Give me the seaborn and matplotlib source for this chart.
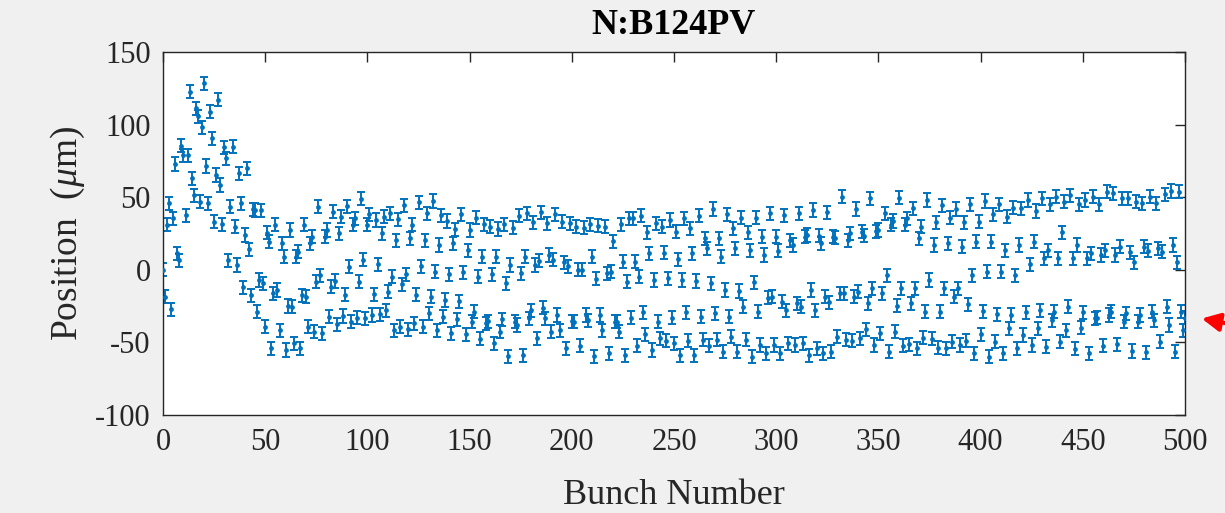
import numpy as np
import pandas as pd
import matplotlib
matplotlib.use("Agg")
import matplotlib.pyplot as plt
import seaborn as sns

# Beam position per bunch (micrometres), bunches 0..500
pos_0_83 = [0, -18.5, 30.9, 45.8, -27.2, 35.5, 72.9, 11.4, 6.7, 85.3,
            79, 37.7, 79, 122.7, 63, 51.5, 111.2, 105.9, 46.9, 98.1,
            128.4, 71.5, 45.8, 108.9, 90.5, 33.2, 65.3, 117, 58.4, 31.5,
            84.3, 76.8, 6.7, 43.5, 84.8, 29.7, 3.3, 66.5, 45.8, -12,
            24, 69.9, 14.1, -17.4, 41.7, 41.2, -28.8, -7, 41, -9.3,
            -39.2, 25.6, 19.4, -54.1, -16.2, 30.9, -13.9, -41.5, 18.2, 9,
            -55.2, -24.9, 27.4, -25.4, -50.6, 9, 12.5, -54.1, -17.4, 30.9,
            -18.5, -39.2, 18.2, 22.8, -42.6, -8.2, 43.5, -3.6, -43.8, 22.8,
            27.4, -32.3, -11.5, 40]
pos_84_151 = [-7.7, -37.5, 25.1, 36.6, -31.8, -17.3, 43.9, 2.2, -35.7, 30.9,
              35.5, -33, -8.2, 48.8, 6.8, -33.4, 30.9, 38.2, -31.1, -16.9,
              34.3, 3.8, -30.7, 25.1, 36.6, -27.7, -15.1, 38.9, -4.7, -41.5,
              20.5, 34.8, -39.2, -10, 44.6, -3.1, -40.8, 21.7, 30.9, -36.9,
              -17.3, 46.5, 2.6, -39.2, 20.5, 38.9, -30, -18.5, 47.4, -1.3,
              -41.5, 17.1, 37.7, -32.3, -20.8, 33.6, -3.1, -43.7, 18.2, 27.9,
              -33.9, -21.5, 38.2, -1.7, -44.4, 13.6, 27.4, -35.7]
pos_152_221 = [-28.8, 35.9, -4.7, -47.6, 9.1, 31.3, -36.9, -35.3, 29.7, -3.1,
               -50.6, 9.1, 28.1, -42.6, -33.9, 31.3, -9.3, -59.4, 3.3, 29,
               -35.7, -38, 37.3, -2.4, -58.7, 9.1, 38.9, -33.4, -27.7, 32.7,
               3.3, -47.2, 6.1, 39.6, -26.1, -33.4, 32, 10.2, -42.6, 6.8,
               38.2, -31.1, -41.5, 33.2, 5.2, -54.1, 2.6, 32, -35.3, -35.7,
               29.7, -0.1, -52.2, -0.1, 29, -31.1, -34.6, 31.3, 9.1, -59.4,
               -6.3, 30.4, -31.1, -41.5, 29.7, -2.4, -57.5, -1.3, 19.8, -35.7]
pos_222_291 = [-35.7, -42.6, 31.3, 5.6, -58.7, -8.2, 35.5, -33, 35.5, 5.6,
               -52.2, -4.7, 37.3, -29.3, -44.4, 25.8, 11.4, -55.2, -7, 32,
               -35.7, -47.2, 29.7, 11.8, -49, -5.9, 34.3, -33, -50.6, 26.3,
               7.4, -58.7, -7, 35.5, -29.3, -49, 28.6, 11.4, -58.7, -7.7,
               37.3, -32.3, -48.3, 21.7, 14.8, -52.2, -9.3, 41.9, -30, -48.3,
               21.7, 9.1, -56.4, -13.9, 38.2, -32.3, -46, 28.6, 14.8, -56.4,
               -14.6, 35.9, -25.4, -48.3, 25.8, 13.6, -59.8, -8.6, 35.9, -28.8]
pos_292_361 = [-51.8, 22.8, 10.2, -57.5, -19.2, 38.9, -18.5, -51.8, 22.8, 13,
               -57.5, -21.9, 37.7, -27.7, -50.6, 20.5, 17.1, -51.8, -23.1, 38.9,
               -25.4, -50.6, 22.8, 24, -58.7, -13.9, 41.2, -27.7, -54.1, 23.5,
               18.2, -57.5, -18.5, 39.6, -22.4, -56.4, 22.8, 22.1, -46, -16.2,
               50.4, -16.2, -48.3, 20.5, 25.1, -49, -18.5, 41.9, -15.1, -47.2,
               26.3, 23.5, -40.8, -23.1, 49.2, -12.8, -51.8, 26.7, 27.4, -43.7,
               -16.2, 38.9, -3.6, -56.4, 30.9, 33.6, -42.6, -24.7, 49.7, -12.8]
pos_362_431 = [-52.3, 30.9, 35.5, -51.3, -23.1, 42.3, -12.8, -54.1, 21.7, 29.7,
               -46.7, -28.8, 48.1, -7, -47.6, 17.1, 32.7, -53.6, -28.8, 44.6,
               -12.8, -54.1, 18.2, 35.9, -49.5, -18.5, 41.9, -12.8, -51.8, 15.9,
               32.7, -49, -23.8, 45.1, -3.6, -57.5, 19.4, 33.2, -44.4, -28.4,
               47.4, -1.3, -59.8, 19.4, 38.2, -49.5, -30.7, 45.1, -1.3, -57.5,
               13.6, 36.6, -40.3, -31.1, 42.8, -3.6, -54.1, 17.1, 42.3, -44.9,
               -29.3, 48.1, 3.8, -51.8, 19.4, 40.5, -40.3, -27.7, 49.2, 7.9]
pos_432_500 = [-52.9, 13.6, 45.1, -34.6, -28.8, 50.4, 7.9, -49.5, 25.8, 46.9,
               -41.5, -25.4, 51.5, 7.9, -54.5, 17.1, 45.1, -39.8, -29.3, 48.1,
               7.9, -57.5, 11.4, 50.4, -33.4, -33, 45.1, 10.2, -52.2, 13.6,
               53.8, -31.1, -28.8, 52.7, 10.2, -51.3, 15.9, 49.2, -35.7, -30,
               49.2, 12, -55.9, 5.2, 46.9, -35.7, -31.1, 45.8, 15.9, -56.8,
               13, 50.4, -28.8, -34.6, 45.8, 14.8, -49.5, 12.5, 52, -25.4,
               -38, 54.3, 17.1, -56.4, 5.2, 53.8, -28.8, -41.5, -33]
pos_err = 4.5  # half-width of each error bar (um)

x_ticks = [0, 50, 100, 150, 200, 250, 300, 350, 400, 450, 500]
y_ticks = [-100, -50, 0, 50, 100, 150]
title_text = "N:B124PV"
x_label = "Bunch Number"
y_label = r"Position  ($\mu$m)"

position = np.array(pos_0_83 + pos_84_151 + pos_152_221 + pos_222_291
                    + pos_292_361 + pos_362_431 + pos_432_500, dtype=float)
bunch = np.arange(len(position))
df = pd.DataFrame({"bunch": bunch, "position": position})

sns.set_theme(style="white")
plt.rcParams["font.family"] = ["Liberation Serif", "DejaVu Serif"]
plt.rcParams["mathtext.fontset"] = "custom"
plt.rcParams["mathtext.rm"] = "Liberation Serif"
plt.rcParams["mathtext.it"] = "Liberation Serif:italic"
plt.rcParams["axes.unicode_minus"] = False

blue = "#0072BD"
fig = plt.figure(figsize=(12.25, 5.13), dpi=100, facecolor="#F0F0F0")
ax = fig.add_axes([0.1331, 0.191, 0.8342, 0.7076])
ax.set_facecolor("white")

ax.errorbar(df["bunch"], df["position"], yerr=pos_err, fmt="none",
            ecolor=blue, elinewidth=1.4, capsize=3.2, capthick=1.4, zorder=2)
sns.scatterplot(data=df, x="bunch", y="position", ax=ax, color=blue,
                s=12, linewidth=0, zorder=3, legend=False)

ax.set_xlim(0, 500)
ax.set_ylim(-100, 150)
ax.set_xticks(x_ticks)
ax.set_yticks(y_ticks)
ax.tick_params(direction="in", length=7, width=1, colors="#262626",
               labelsize=22, top=True, right=True, labeltop=False,
               labelright=False, pad=9)
for s in ax.spines.values():
    s.set_color("#262626")
    s.set_linewidth(1.0)

ax.set_title(title_text, fontsize=26, fontweight="bold", pad=13, color="black")
ax.set_xlabel(x_label, fontsize=26, color="#262626", labelpad=16)
ax.set_ylabel(y_label, fontsize=27, color="#262626", labelpad=6)

# red pointer on the right margin
ax.annotate("", xy=(1199, 513 - 318), xycoords="figure pixels",
            xytext=(1240, 513 - 326), textcoords="figure pixels",
            arrowprops=dict(arrowstyle="-|>,head_length=0.9,head_width=0.45",
                            color="#FF0000", lw=3), annotation_clip=False)

fig.savefig("out.png", dpi=100, facecolor=fig.get_facecolor())
